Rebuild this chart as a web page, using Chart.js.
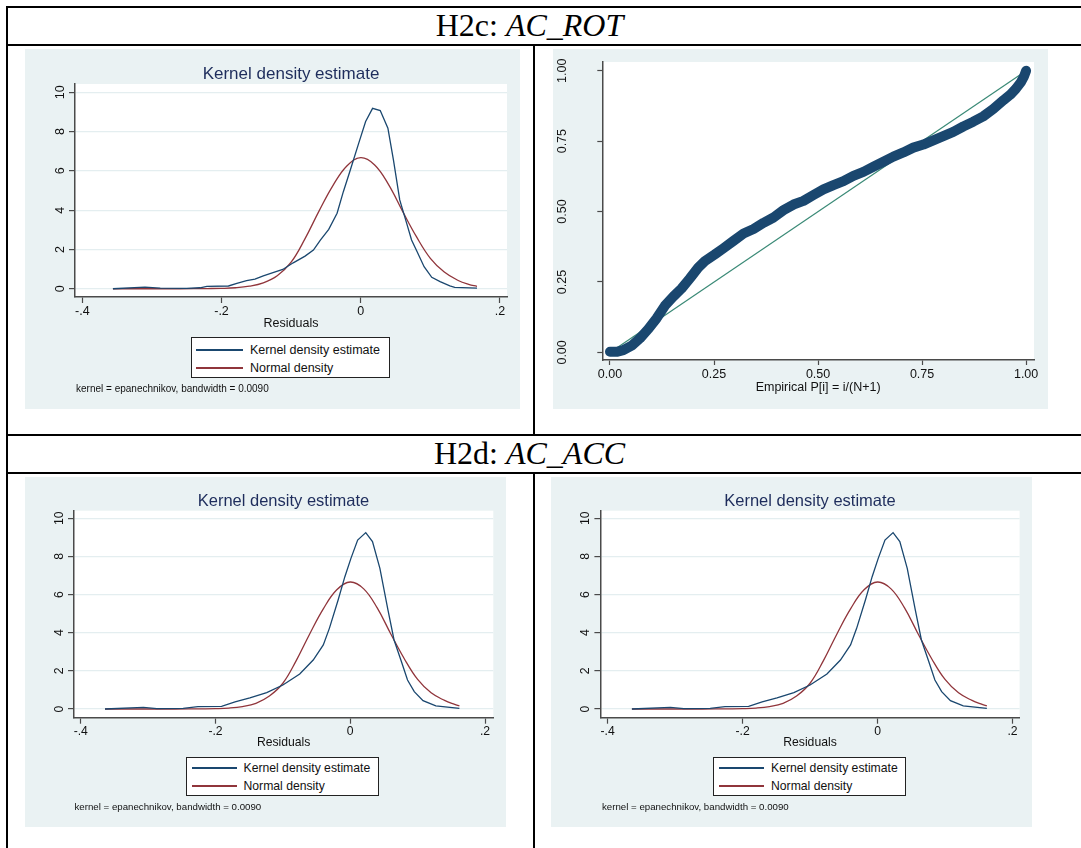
<!DOCTYPE html>
<html>
<head>
<meta charset="utf-8">
<script src="https://cdn.jsdelivr.net/npm/chart.js@4.4.1/dist/chart.umd.min.js"></script>
<style>
  body { margin: 0; background: #fff; }
  #page { position: relative; width: 1081px; height: 848px; overflow: hidden; font-family: "Liberation Sans", Arial, sans-serif; }
  .rule { position: absolute; background: #000; }
  .head { position: absolute; left: 0; width: 1059px; text-align: center; font-family: "Liberation Serif", "Times New Roman", serif; font-size: 32px; line-height: 32px; color: #000; }
  .panel { position: absolute; background: #eaf2f3; }
  .panel canvas { position: absolute; left: 0; top: 0; }
  .ptitle { position: absolute; transform: translate(-50%, -50%); white-space: nowrap; line-height: 1; color: #1e2d5c; }
  .legend { position: absolute; background: #fff; border: 1px solid #222; box-sizing: border-box; }
  .swatch { position: absolute; height: 1.5px; }
  .ltext { position: absolute; transform: translateY(-50%); white-space: nowrap; line-height: 1; color: #111; }
  .note { position: absolute; transform: translateY(-50%); white-space: nowrap; line-height: 1; color: #111; }
</style>
</head>
<body>
<div id="page">
  <!-- table rules -->
  <div class="rule" style="left:6px;top:6px;width:1075px;height:2px"></div>
  <div class="rule" style="left:6px;top:43.5px;width:1075px;height:2px"></div>
  <div class="rule" style="left:6px;top:434px;width:1075px;height:2px"></div>
  <div class="rule" style="left:6px;top:472px;width:1075px;height:2px"></div>
  <div class="rule" style="left:6px;top:6px;width:2px;height:842px"></div>
  <div class="rule" style="left:533px;top:44px;width:2px;height:391px"></div>
  <div class="rule" style="left:533px;top:473px;width:2px;height:375px"></div>

  <div class="head" style="top:9px">H2c: <i>AC_ROT</i></div>
  <div class="head" style="top:436.5px">H2d: <i>AC_ACC</i></div>

  <div class="panel" style="left:25px;top:49px;width:495px;height:360px"><canvas id="kdeTop" width="495" height="360"></canvas></div>
  <div class="panel" style="left:553px;top:49px;width:495px;height:360px"><canvas id="ppTop" width="495" height="360"></canvas></div>
  <div class="panel" style="left:25px;top:477px;width:481px;height:350px"><canvas id="kdeLeft" width="481" height="350"></canvas></div>
  <div class="panel" style="left:551px;top:477px;width:481px;height:350px"><canvas id="kdeRight" width="481" height="350"></canvas></div>

  <!-- titles -->
  <div class="ptitle" style="left:291px;top:73px;font-size:17px">Kernel density estimate</div>
  <div class="ptitle" style="left:283.5px;top:499.5px;font-size:16.5px">Kernel density estimate</div>
  <div class="ptitle" style="left:810px;top:499.5px;font-size:16.5px">Kernel density estimate</div>

  <!-- legends -->
  <div class="legend" style="left:191px;top:337px;width:199px;height:41px"></div>
  <div class="swatch" style="left:196px;top:349px;width:47px;background:#1a476f"></div>
  <div class="swatch" style="left:196px;top:367px;width:47px;background:#90353b"></div>
  <div class="ltext" style="left:250px;top:349.5px;font-size:12.5px">Kernel density estimate</div>
  <div class="ltext" style="left:250px;top:367.7px;font-size:12.5px">Normal density</div>

  <div class="legend" style="left:186px;top:757px;width:193px;height:39px"></div>
  <div class="swatch" style="left:192px;top:767px;width:45px;background:#1a476f"></div>
  <div class="swatch" style="left:192px;top:785px;width:45px;background:#90353b"></div>
  <div class="ltext" style="left:243.5px;top:767.7px;font-size:12.2px">Kernel density estimate</div>
  <div class="ltext" style="left:243.5px;top:785.7px;font-size:12.2px">Normal density</div>

  <div class="legend" style="left:713px;top:757px;width:193px;height:39px"></div>
  <div class="swatch" style="left:719px;top:767px;width:45px;background:#1a476f"></div>
  <div class="swatch" style="left:719px;top:785px;width:45px;background:#90353b"></div>
  <div class="ltext" style="left:771px;top:767.7px;font-size:12.2px">Kernel density estimate</div>
  <div class="ltext" style="left:771px;top:785.7px;font-size:12.2px">Normal density</div>

  <!-- notes -->
  <div class="note" style="left:76px;top:389px;font-size:10px">kernel = epanechnikov, bandwidth = 0.0090</div>
  <div class="note" style="left:74.5px;top:807px;font-size:9.7px">kernel = epanechnikov, bandwidth = 0.0090</div>
  <div class="note" style="left:602px;top:807px;font-size:9.7px">kernel = epanechnikov, bandwidth = 0.0090</div>
</div>

<script>
// tick values and labels
let residTicks = [-0.4, -0.2, 0, 0.2];
let residTickText = ['-.4', '-.2', '0', '.2'];
let densTicks = [0, 2, 4, 6, 8, 10];
let probTicks = [0, 0.25, 0.5, 0.75, 1];
let probTickText = ['0.00', '0.25', '0.50', '0.75', '1.00'];

// H2c kernel density
let kdeResidA = [-0.356, -0.310, -0.288, -0.250, -0.231, -0.221, -0.190, -0.178, -0.164, -0.152, -0.140, -0.125, -0.112, -0.097, -0.080, -0.068, -0.058, -0.046, -0.034, -0.025, -0.015, -0.003, 0.007, 0.017, 0.028, 0.039, 0.047, 0.056, 0.066, 0.073, 0.081, 0.091, 0.102, 0.114, 0.128, 0.135, 0.167];
let kdeDensA = [0.00, 0.08, 0.03, 0.02, 0.05, 0.12, 0.14, 0.27, 0.41, 0.49, 0.65, 0.83, 0.98, 1.32, 1.66, 1.97, 2.48, 3.02, 3.84, 4.94, 6.04, 7.40, 8.51, 9.18, 9.07, 8.17, 6.55, 4.52, 3.33, 2.48, 1.88, 1.12, 0.58, 0.36, 0.15, 0.07, 0.03];
let normResidA = [-0.356, -0.30, -0.26, -0.22, -0.20, -0.18, -0.16, -0.14, -0.12, -0.10, -0.08, -0.06, -0.04, -0.02, 0, 0.02, 0.04, 0.06, 0.08, 0.10, 0.12, 0.14, 0.155, 0.167];
let normDensA = [0.00, 0.00, 0.00, 0.01, 0.02, 0.05, 0.13, 0.30, 0.66, 1.35, 2.55, 3.95, 5.25, 6.25, 6.67, 6.30, 5.30, 3.95, 2.65, 1.55, 0.85, 0.42, 0.22, 0.12];

// H2d kernel density (same picture in both cells)
let kdeResidB = [-0.364, -0.307, -0.287, -0.248, -0.226, -0.191, -0.171, -0.149, -0.124, -0.100, -0.075, -0.055, -0.040, -0.031, -0.018, -0.008, 0.001, 0.011, 0.023, 0.033, 0.044, 0.056, 0.065, 0.076, 0.085, 0.095, 0.108, 0.127, 0.162];
let kdeDensB = [0.00, 0.09, 0.02, 0.03, 0.12, 0.14, 0.37, 0.58, 0.86, 1.26, 1.84, 2.57, 3.36, 4.23, 5.72, 6.94, 7.90, 8.86, 9.25, 8.78, 7.38, 5.19, 3.62, 2.48, 1.52, 0.91, 0.44, 0.16, 0.03];
let normResidB = [-0.364, -0.30, -0.26, -0.22, -0.20, -0.18, -0.16, -0.14, -0.12, -0.10, -0.08, -0.06, -0.04, -0.02, 0, 0.02, 0.04, 0.06, 0.08, 0.10, 0.12, 0.14, 0.155, 0.162];
let normDensB = [0.00, 0.00, 0.00, 0.01, 0.02, 0.05, 0.13, 0.30, 0.68, 1.35, 2.55, 3.95, 5.25, 6.25, 6.66, 6.30, 5.30, 3.95, 2.65, 1.55, 0.85, 0.45, 0.24, 0.16];

// H2c standardized normal probability plot
let ppEmpirical = [0, 0.016, 0.032, 0.052, 0.072, 0.092, 0.112, 0.132, 0.152, 0.172, 0.192, 0.212, 0.228, 0.252, 0.272, 0.296, 0.321, 0.345, 0.369, 0.393, 0.417, 0.441, 0.465, 0.489, 0.513, 0.537, 0.561, 0.585, 0.609, 0.633, 0.657, 0.681, 0.705, 0.729, 0.753, 0.777, 0.801, 0.825, 0.849, 0.873, 0.897, 0.921, 0.946, 0.962, 0.975, 0.987, 0.995, 1.0];
let ppNormal = [0.002, 0.002, 0.008, 0.024, 0.050, 0.083, 0.121, 0.166, 0.198, 0.227, 0.263, 0.301, 0.324, 0.348, 0.369, 0.395, 0.422, 0.438, 0.460, 0.479, 0.505, 0.525, 0.538, 0.559, 0.579, 0.594, 0.608, 0.627, 0.641, 0.659, 0.677, 0.695, 0.710, 0.727, 0.738, 0.753, 0.768, 0.783, 0.802, 0.819, 0.838, 0.864, 0.896, 0.915, 0.935, 0.958, 0.980, 1.0];
let refLineX = [0, 1];
let refLineY = [0, 1];

let navy = '#1a476f';
let maroon = '#90353b';
let axisColor = '#4a4a4a';
let gridColor = '#e4eef0';
let labelFont = '"Liberation Sans", Arial, sans-serif';

// white plot region like stata
let plotBg = {
  id: 'plotBg',
  beforeDraw(chart) {
    let a = chart.chartArea;
    chart.ctx.save();
    chart.ctx.fillStyle = '#fff';
    chart.ctx.fillRect(a.left, a.top, a.right - a.left, a.bottom - a.top);
    chart.ctx.restore();
  }
};

function toPoints(xs, ys) {
  return xs.map((x, i) => ({ x: x, y: ys[i] }));
}

// fixed axis boxes so the plot region lands where it is in the picture
function fixX(h) {
  return (s) => { s.height = h; s.paddingLeft = 0; s.paddingRight = 0; };
}
function fixY(w) {
  return (s) => { s.width = w; s.paddingTop = 0; s.paddingBottom = 0; };
}

function densityChart(id, g) {
  return new Chart(document.getElementById(id), {
    type: 'line',
    data: {
      datasets: [{
        label: 'Kernel density estimate',
        data: toPoints(g.kx, g.ky),
        borderColor: navy,
        borderWidth: 1.3,
        pointRadius: 0,
        tension: 0
      },
      {
        label: 'Normal density',
        data: toPoints(g.nx, g.ny),
        borderColor: maroon,
        borderWidth: 1.3,
        pointRadius: 0,
        tension: 0.4
      }]
    },
    plugins: [plotBg],
    options: {
      responsive: false,
      animation: false,
      devicePixelRatio: 1,
      layout: { padding: { left: 0, top: g.padTop, right: g.padRight, bottom: g.padBottom } },
      plugins: { legend: { display: false }, tooltip: { enabled: false } },
      scales: {
        x: {
          type: 'linear',
          min: g.xMin,
          max: g.xMax,
          afterBuildTicks: (s) => { s.ticks = residTicks.map(v => ({ value: v })); },
          afterFit: fixX(g.xAxisH),
          ticks: {
            callback: (v) => residTickText[residTicks.indexOf(v)],
            font: { family: labelFont, size: g.fs },
            color: '#111',
            padding: 1,
            maxRotation: 0,
            autoSkip: false
          },
          grid: { drawOnChartArea: false, tickLength: 6, tickColor: axisColor, tickWidth: 1.2 },
          border: { color: axisColor, width: 1.5 },
          title: { display: true, text: 'Residuals', font: { family: labelFont, size: g.fs }, color: '#111', padding: 0 }
        },
        y: {
          type: 'linear',
          min: g.yMin,
          max: g.yMax,
          afterBuildTicks: (s) => { s.ticks = densTicks.map(v => ({ value: v })); },
          afterFit: fixY(g.yAxisW),
          ticks: {
            minRotation: 90,
            maxRotation: 90,
            crossAlign: 'center',
            font: { family: labelFont, size: g.fs },
            color: '#111',
            padding: 2
          },
          grid: { color: gridColor, lineWidth: 1.2, tickLength: 6, tickColor: axisColor, tickWidth: 1.2 },
          border: { color: axisColor, width: 1.5 }
        }
      }
    }
  });
}

densityChart('kdeTop', {
  kx: kdeResidA, ky: kdeDensA, nx: normResidA, ny: normDensA,
  padTop: 35, padRight: 13, padBottom: 78, xAxisH: 34, yAxisW: 50,
  xMin: -0.4105, xMax: 0.2101, yMin: -0.42, yMax: 10.42, fs: 12.5
});
densityChart('kdeLeft', {
  kx: kdeResidB, ky: kdeDensB, nx: normResidB, ny: normDensB,
  padTop: 33.7, padRight: 12.7, padBottom: 76.8, xAxisH: 32.5, yAxisW: 49,
  xMin: -0.41, xMax: 0.2123, yMin: -0.456, yMax: 10.4, fs: 12.2
});
densityChart('kdeRight', {
  kx: kdeResidB, ky: kdeDensB, nx: normResidB, ny: normDensB,
  padTop: 33.7, padRight: 12.4, padBottom: 76.8, xAxisH: 32.5, yAxisW: 49.4,
  xMin: -0.4107, xMax: 0.2105, yMin: -0.456, yMax: 10.4, fs: 12.2
});

// p-p plot
new Chart(document.getElementById('ppTop'), {
  type: 'line',
  data: {
    datasets: [{
      label: 'Normal F[(resid-m)/s]',
      data: toPoints(ppEmpirical, ppNormal),
      borderColor: navy,
      borderWidth: 10,
      borderCapStyle: 'round',
      borderJoinStyle: 'round',
      pointRadius: 0,
      tension: 0
    },
    {
      label: 'reference',
      data: toPoints(refLineX, refLineY),
      borderColor: '#3a8a76',
      borderWidth: 1.2,
      pointRadius: 0
    }]
  },
  plugins: [plotBg],
  options: {
    responsive: false,
    animation: false,
    devicePixelRatio: 1,
    layout: { padding: { left: 0, top: 13, right: 14, bottom: 13.5 } },
    plugins: { legend: { display: false }, tooltip: { enabled: false } },
    scales: {
      x: {
        type: 'linear',
        min: -0.0185,
        max: 1.019,
        afterBuildTicks: (s) => { s.ticks = probTicks.map(v => ({ value: v })); },
        afterFit: fixX(35.5),
        ticks: {
          callback: (v) => probTickText[probTicks.indexOf(v)],
          font: { family: labelFont, size: 12.5 },
          color: '#111',
          padding: 2.5,
          maxRotation: 0,
          autoSkip: false
        },
        grid: { drawOnChartArea: false, tickLength: 5, tickColor: axisColor, tickWidth: 1.2 },
        border: { color: axisColor, width: 1.5 },
        title: { display: true, text: 'Empirical P[i] = i/(N+1)', font: { family: labelFont, size: 12.5 }, color: '#111', padding: 0 }
      },
      y: {
        type: 'linear',
        min: -0.027,
        max: 1.031,
        afterBuildTicks: (s) => { s.ticks = probTicks.map(v => ({ value: v })); },
        afterFit: fixY(49.3),
        ticks: {
          callback: (v) => probTickText[probTicks.indexOf(v)],
          minRotation: 90,
          maxRotation: 90,
          crossAlign: 'center',
          font: { family: labelFont, size: 12.5 },
          color: '#111',
          padding: 23
        },
        grid: { drawOnChartArea: false, tickLength: 5, tickColor: axisColor, tickWidth: 1.2 },
        border: { color: axisColor, width: 1.5 }
      }
    }
  }
});
</script>
</body>
</html>
